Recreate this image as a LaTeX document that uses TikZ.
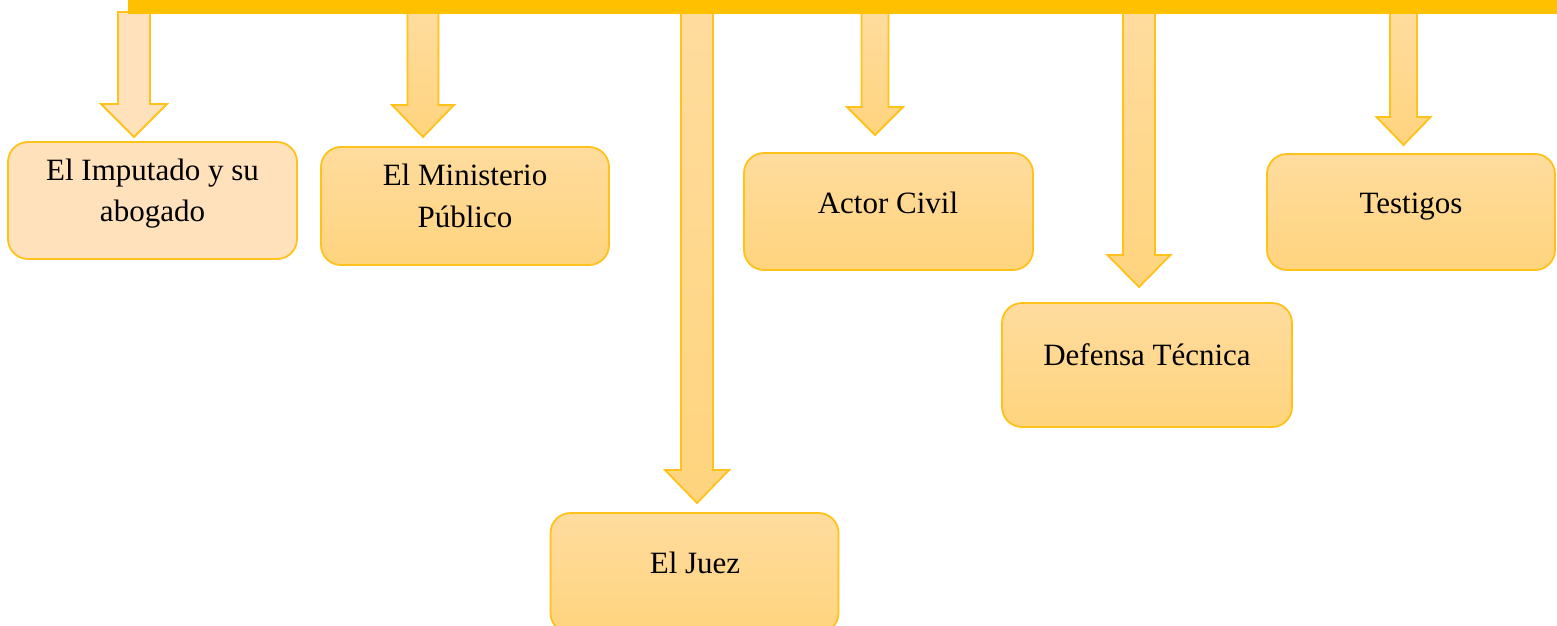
\documentclass[tikz,border=0pt]{standalone}
\usepackage{fontspec}
\setmainfont{Liberation Serif}
\definecolor{barC}{HTML}{FFC000}
\definecolor{edgeC}{HTML}{FFC21A}
\definecolor{fillTop}{HTML}{FFDC9E}
\definecolor{fillBot}{HTML}{FFD47E}
\definecolor{lightF}{HTML}{FFE2BC}
\tikzset{
  boxbase/.style={draw=edgeC, line width=1.8pt, rounded corners=20pt, inner sep=0pt},
  goldbox/.style={boxbase, top color=fillTop, bottom color=fillBot},
  lightbox/.style={boxbase, fill=lightF},
  arrgold/.style={draw=edgeC, line width=1.8pt, line join=miter, top color=fillTop, bottom color=fillBot},
  arrlight/.style={draw=edgeC, line width=1.8pt, line join=miter, fill=lightF},
  lbl/.style={font=\fontsize{31}{41}\selectfont, text=black, anchor=base, inner sep=0pt}
}
% #1 style, #2 centre x, #3 top y, #4 head y, #5 tip y, #6 half shaft, #7 half head
\newcommand\blockarrow[7]{%
  \path[#1] ({#2-#6},#3) -- ({#2+#6},#3) -- ({#2+#6},#4) -- ({#2+#7},#4) -- (#2,#5)
    -- ({#2-#7},#4) -- ({#2-#6},#4) -- cycle;}
\begin{document}
\begin{tikzpicture}[x=1pt,y=-1pt]
\useasboundingbox (0,0) rectangle (1557,625);
% boxes
\node[lightbox, minimum width=289pt, minimum height=117pt] (imp) at (152.5,200.5) {};
\node[goldbox, minimum width=288pt, minimum height=118pt] (min) at (465,206) {};
\node[goldbox, minimum width=288pt, minimum height=120pt] (juez) at (694.5,573) {};
\node[goldbox, minimum width=289pt, minimum height=117pt] (act) at (888.5,211.5) {};
\node[goldbox, minimum width=290pt, minimum height=124pt] (def) at (1147,365) {};
\node[goldbox, minimum width=288pt, minimum height=116pt] (tes) at (1411,212) {};
% labels
\node[lbl] (impA) at (152.5,180) {El Imputado y su};
\node[lbl] (impB) at (152.5,221) {abogado};
\node[lbl] (minA) at (465,185) {El Ministerio};
\node[lbl] (minB) at (465,227) {Público};
\node[lbl] (juezT) at (695,573) {El Juez};
\node[lbl] (actT) at (888,213) {Actor Civil};
\node[lbl] (defT) at (1147,365) {Defensa Técnica};
\node[lbl] (tesT) at (1411,213) {Testigos};
% arrows
\blockarrow{arrlight}{134}{12}{104}{137}{16}{33}
\blockarrow{arrgold}{423}{12}{105}{137}{15.5}{31}
\blockarrow{arrgold}{697}{12}{470}{503}{16}{32}
\blockarrow{arrgold}{875}{12}{107}{135}{13.5}{28}
\blockarrow{arrgold}{1139}{12}{255}{287}{16}{31.5}
\blockarrow{arrgold}{1403.5}{12}{117}{145}{13.5}{27}
% top bar
\node[fill=barC, inner sep=0pt, minimum width=1429pt, minimum height=14pt, anchor=north west] (bar) at (128,0) {};
\end{tikzpicture}
\end{document}
